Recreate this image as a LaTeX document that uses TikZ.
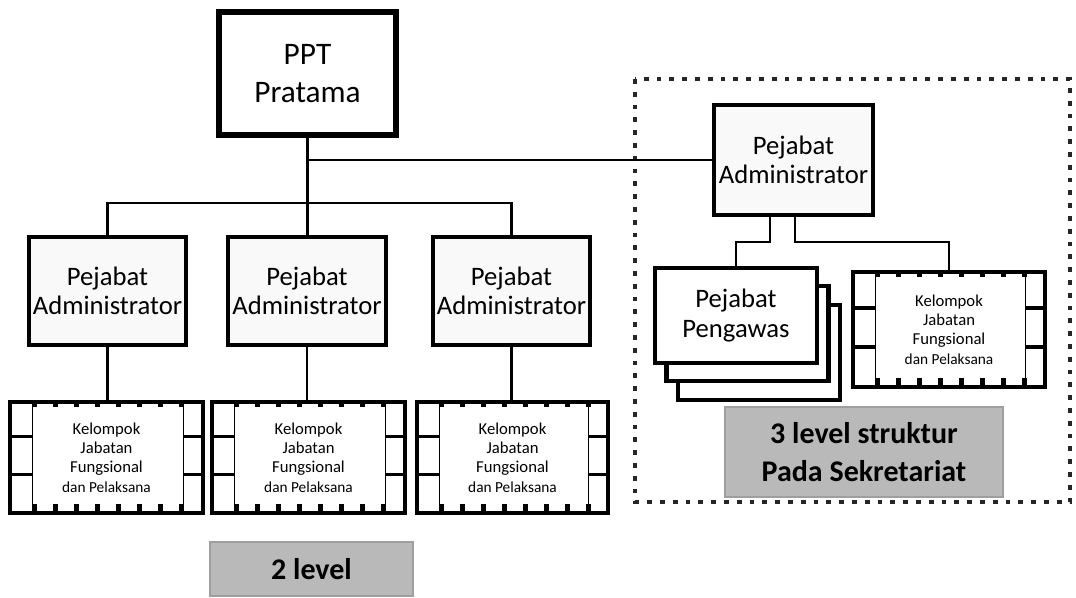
\documentclass[tikz,border=0pt]{standalone}
\usepackage{fontspec}
\setmainfont{Carlito}
\newdimen\upx \upx=0.75pt
\newcommand\kelstrip[3]{%
  \begin{scope}[shift={(#1.north west)}]
    \draw[line width=0.7pt] (24,0) -- (24,#3);
    \draw[line width=0.7pt] (#2-18,0) -- (#2-18,#3);
    \foreach \yy in {0.33,0.67}{%
      \draw[line width=2.4pt] (0,\yy*#3) -- (24,\yy*#3);
      \draw[line width=2.4pt] (#2-18,\yy*#3) -- (#2,\yy*#3);}
    \foreach \i in {0,...,7}{%
      \fill (26+21*\i-2.5,0) rectangle (26+21*\i+2.5,7);
      \fill (26+21*\i-2.5,#3-7) rectangle (26+21*\i+2.5,#3);}
  \end{scope}}
\begin{document}
\begin{tikzpicture}[x=0.75pt,y=-0.75pt,
  box/.style={draw, line width=3.4pt, inner sep=0pt, align=center},
  adm/.style={box, fill=gray!5, minimum width=157\upx, minimum height=108\upx,
    font=\fontsize{20}{22}\selectfont},
  kel/.style={draw, fill=white, line width=3pt, inner sep=0pt, align=center,
    font=\fontsize{12.5}{14.5}\selectfont},
  peng/.style={box, fill=white, minimum width=162\upx, minimum height=95\upx},
  conn/.style={line width=1.6pt},
  lbl/.style={fill=gray!55, draw=gray!75, line width=0.8pt, inner sep=0pt, align=center,
    font=\fontsize{22.5}{29}\selectfont\bfseries}
]
\useasboundingbox (0,0) rectangle (1076,597);

% dotted frame
\draw[black!85, line width=3.6pt, dash pattern=on 3.6pt off 6pt] (635,79) rectangle (1070,502);

% nodes
\node[box, line width=4pt, minimum width=177\upx, minimum height=123\upx,
  font=\fontsize{23.5}{29}\selectfont] (ppt) at (307.5,73.5) {PPT\\Pratama};

\node[adm] (adm1) at (107.5,291) {Pejabat\\Administrator};
\node[adm, minimum width=158\upx] (adm2) at (307,291) {Pejabat\\Administrator};
\node[adm] (adm3) at (511.5,291) {Pejabat\\Administrator};
\node[adm, minimum width=159\upx, minimum height=110\upx] (admR) at (793.5,160) {Pejabat\\Administrator};

\node[kel, minimum width=193\upx, minimum height=111\upx] (kel1) at (106.5,457.5)
  {Kelompok\\Jabatan\\Fungsional\\{\fontsize{11.5}{14}\selectfont dan Pelaksana}};
\node[kel, minimum width=193\upx, minimum height=111\upx] (kel2) at (308.5,457.5)
  {Kelompok\\Jabatan\\Fungsional\\{\fontsize{11.5}{14}\selectfont dan Pelaksana}};
\node[kel, minimum width=191\upx, minimum height=111\upx] (kel3) at (512.5,457.5)
  {Kelompok\\Jabatan\\Fungsional\\{\fontsize{11.5}{14}\selectfont dan Pelaksana}};
\node[kel, minimum width=192\upx, minimum height=115\upx] (kelR) at (949,329.5)
  {Kelompok\\Jabatan\\Fungsional\\{\fontsize{11.5}{14}\selectfont dan Pelaksana}};
\kelstrip{kel1}{193}{111}
\kelstrip{kel2}{193}{111}
\kelstrip{kel3}{191}{111}
\kelstrip{kelR}{192}{115}

\node[peng] (peng3) at (759,352.5) {};
\node[peng] (peng2) at (747.5,333.5) {};
\node[peng, font=\fontsize{20}{22}\selectfont] (peng) at (736,315.5) {Pejabat\\Pengawas};

\node[lbl, minimum width=278\upx, minimum height=90\upx] (lvl3) at (864,452)
  {3 level struktur\\Pada Sekretariat};
\node[lbl, minimum width=203\upx, minimum height=54\upx] (lvl2) at (311.5,569) {2 level};

% connectors
\draw[conn] (ppt.south) -- (ppt.south |- adm2.north);
\draw[conn] (admR.west) -| (ppt.south);
\draw[conn] (adm1.north) -- ++(0,-32) -| (adm3.north);
\draw[conn] (adm1.south) -- (adm1.south |- kel1.north);
\draw[conn] (adm2.south) -- (adm2.south |- kel2.north);
\draw[conn] (adm3.south) -- (adm3.south |- kel3.north);
\draw[conn] ([xshift=-23.5\upx]admR.south) -- ++(0,25) -| (peng.north);
\draw[conn] ([xshift=1.5\upx]admR.south) -- ++(0,25) -| (kelR.north);
\end{tikzpicture}
\end{document}
